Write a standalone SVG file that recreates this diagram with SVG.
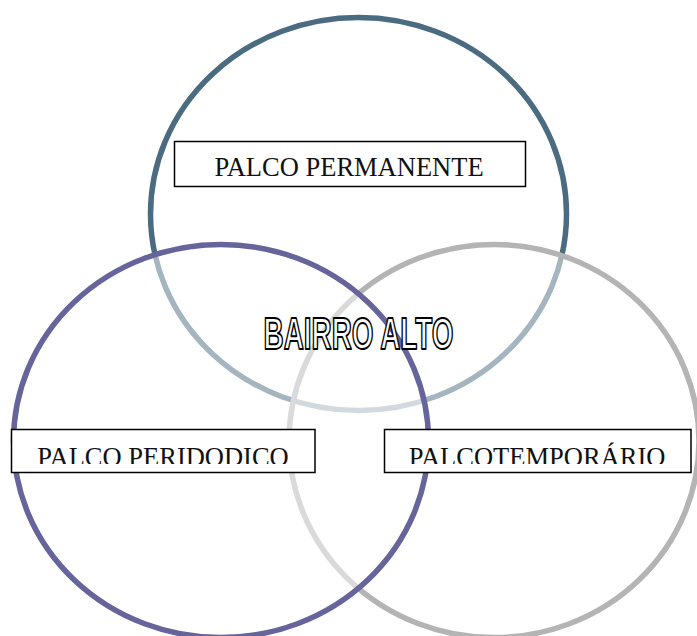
<svg xmlns="http://www.w3.org/2000/svg" width="697" height="636" viewBox="0 0 697 636">
  <defs>
    <style>
      .ring { fill: #ffffff; fill-opacity: 0.5; stroke-width: 5.5; }
      .box { fill: #ffffff; stroke: #000000; stroke-width: 1.5; }
      .lbl { font-family: "Liberation Serif", "Times New Roman", serif; font-size: 26.5px; fill: #111111; text-anchor: middle; }
      .title { font-family: "Liberation Sans", Arial, sans-serif; font-weight: bold; font-size: 44px; fill: #ffffff; stroke: #000000; stroke-width: 2; stroke-linejoin: round; }
    </style>
    <clipPath id="clipL"><rect x="12" y="430" width="302" height="34"/></clipPath>
    <clipPath id="clipR"><rect x="385" y="430" width="306" height="34"/></clipPath>
  </defs>
  <rect width="697" height="636" fill="#ffffff"/>

  <g id="circle-permanente">
    <ellipse class="ring" cx="358.5" cy="214" rx="208" ry="196.5" stroke="#4b6b80"/>
  </g>
  <g id="circle-temporario">
    <ellipse class="ring" cx="494" cy="441" rx="205" ry="196.5" stroke="#b4b4b4"/>
  </g>
  <g id="circle-periodico">
    <ellipse class="ring" cx="221" cy="441" rx="207.5" ry="196.5" stroke="#65649b"/>
  </g>

  <g id="node-permanente">
    <rect class="box" x="174.5" y="141.5" width="351" height="45"/>
    <text class="lbl" x="349" y="175.5">PALCO PERMANENTE</text>
  </g>
  <g id="node-periodico">
    <rect class="box" x="11.5" y="429.5" width="303.5" height="43"/>
    <text class="lbl" x="163" y="465.5" clip-path="url(#clipL)">PALCO PERIDODICO</text>
  </g>
  <g id="node-temporario">
    <rect class="box" x="384.5" y="429.5" width="306.5" height="43"/>
    <text class="lbl" x="537" y="465.5" clip-path="url(#clipR)">PALCOTEMPORÁRIO</text>
  </g>

  <g id="node-bairro-alto">
    <text class="title" x="263.5" y="348.5" textLength="190" lengthAdjust="spacingAndGlyphs">BAIRRO ALTO</text>
  </g>
</svg>
